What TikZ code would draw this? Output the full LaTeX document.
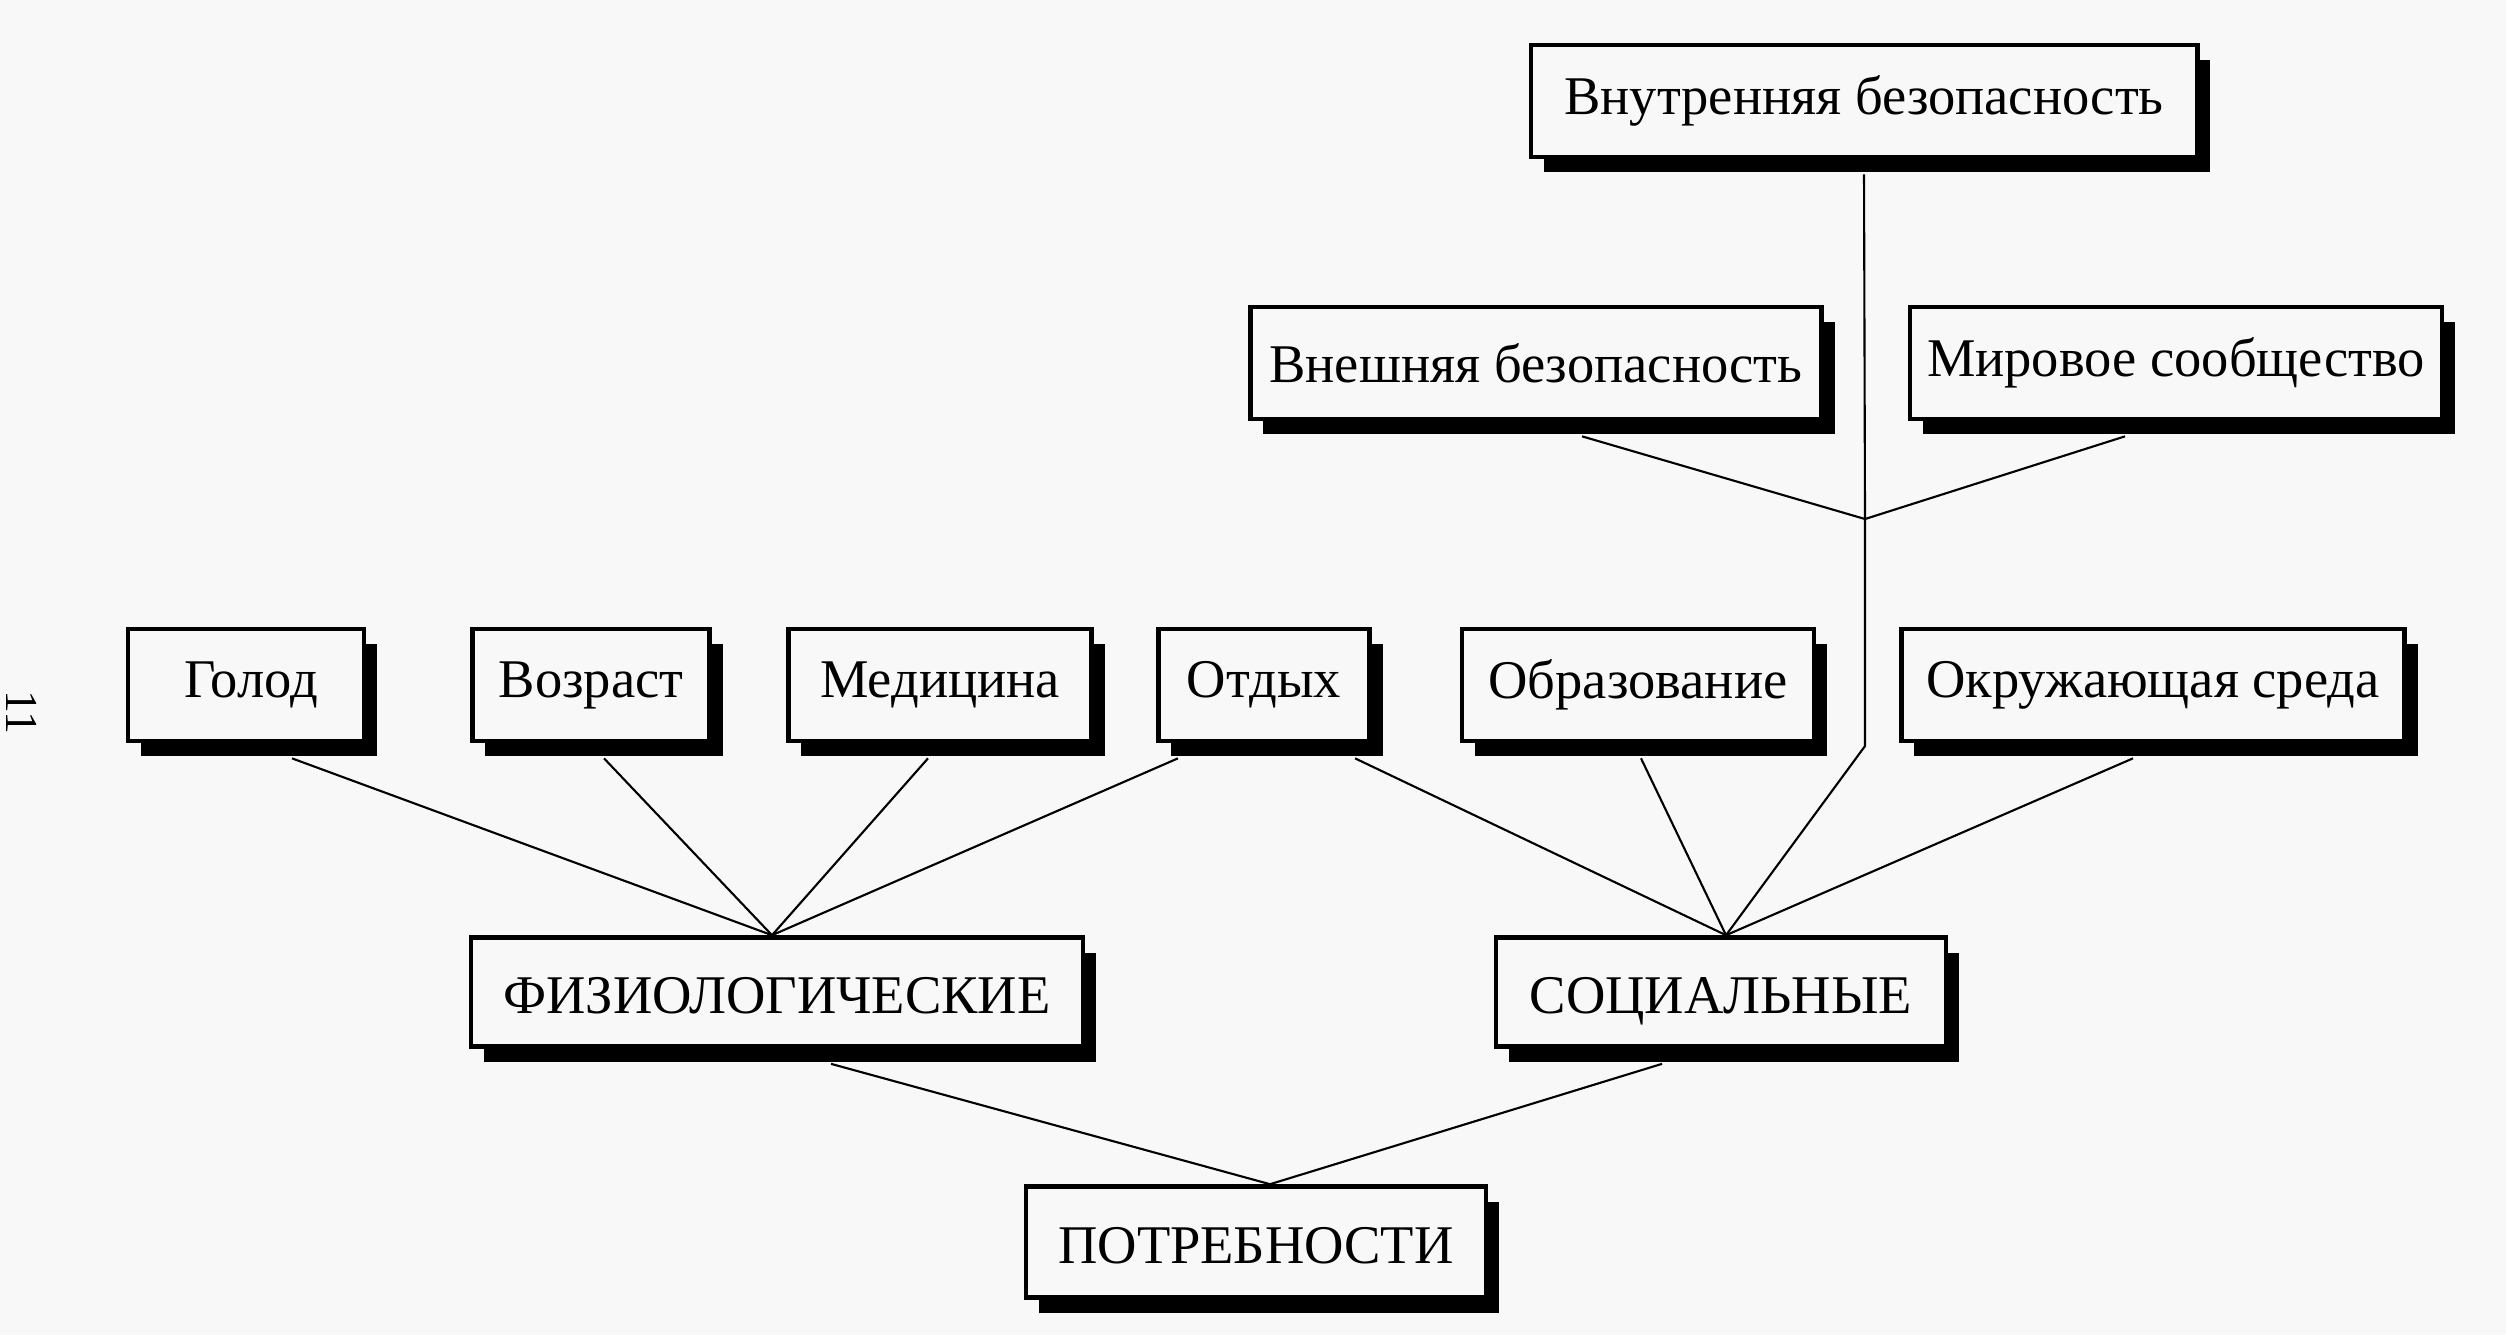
\documentclass[tikz,border=0pt]{standalone}
\usepackage{fontspec}
\setmainfont{Liberation Serif}
\usetikzlibrary{shadows,calc}
\definecolor{bg}{RGB}{248,248,248}
\begin{document}
\begin{tikzpicture}[x=0.01cm,y=-0.01cm,
  box/.style={draw, fill=bg, line width=1.3pt, inner sep=0pt, minimum height=1.12cm,
    font=\fontsize{15.5}{18}\selectfont,
    drop shadow={shadow xshift=0.13cm, shadow yshift=-0.15cm, fill=black, opacity=1}},
  capsbox/.style={box, text height=13pt, text depth=1pt},
  link/.style={line width=0.6pt}]
\useasboundingbox[fill=bg] (0,0) rectangle (2506,1335);

\node[rotate=-90, font=\fontsize{13}{15}\selectfont] (pg) at (22,712) {11};

\node[box, minimum width=6.66cm] (vnutr) at (1864,101) {Внутренняя безопасность};
\node[box, minimum width=5.71cm] (vnesh) at (1536,363) {Внешняя безопасность};
\node[box, minimum width=5.32cm] (mir) at (2176,363) {Мировое сообщество};

\node[box, minimum width=2.36cm] (golod) at (246,685) {\hspace*{0.1cm}Голод};
\node[box, minimum width=2.37cm] (vozr) at (591,685) {Возраст};
\node[box, minimum width=3.03cm] (med) at (940,685) {Медицина};
\node[box, minimum width=2.11cm] (otd) at (1264,685) {Отдых};
\node[box, minimum width=3.52cm] (obr) at (1638,685) {Образование};
\node[box, minimum width=5.03cm] (okr) at (2153,685) {Окружающая среда};

\node[capsbox, minimum width=6.12cm, minimum height=1.09cm] (fiz) at (777,992) {ФИЗИОЛОГИЧЕСКИЕ};
\node[capsbox, minimum width=4.50cm, minimum height=1.09cm] (soc) at (1721,992) {СОЦИАЛЬНЫЕ};
\node[capsbox, minimum width=4.60cm, minimum height=1.11cm] (potr) at (1256,1242) {ПОТРЕБНОСТИ};

\coordinate (jtop) at (1865,519);
\coordinate (jbend) at (1865,746);
\coordinate (jfiz) at ([xshift=-0.05cm]fiz.north);
\coordinate (jsoc) at ([xshift=0.05cm]soc.north);
\coordinate (jpotr) at ([xshift=0.14cm]potr.north);

\draw[link] ([yshift=-0.15cm]vnutr.south) -- (jtop) -- (jbend) -- (jsoc);
\draw[link] ([xshift=0.46cm,yshift=-0.15cm]vnesh.south) -- (jtop);
\draw[link] ([xshift=-0.51cm,yshift=-0.15cm]mir.south) -- (jtop);

\draw[link] ([xshift=0.46cm,yshift=-0.15cm]golod.south) -- (jfiz);
\draw[link] ([xshift=0.13cm,yshift=-0.15cm]vozr.south) -- (jfiz);
\draw[link] ([xshift=-0.12cm,yshift=-0.15cm]med.south) -- (jfiz);
\draw[link] ([xshift=-0.86cm,yshift=-0.15cm]otd.south) -- (jfiz);

\draw[link] ([xshift=0.91cm,yshift=-0.15cm]otd.south) -- (jsoc);
\draw[link] ([xshift=0.03cm,yshift=-0.15cm]obr.south) -- (jsoc);
\draw[link] ([xshift=-0.20cm,yshift=-0.15cm]okr.south) -- (jsoc);

\draw[link] ([xshift=0.54cm,yshift=-0.15cm]fiz.south) -- (jpotr);
\draw[link] ([xshift=-0.59cm,yshift=-0.15cm]soc.south) -- (jpotr);
\end{tikzpicture}
\end{document}
